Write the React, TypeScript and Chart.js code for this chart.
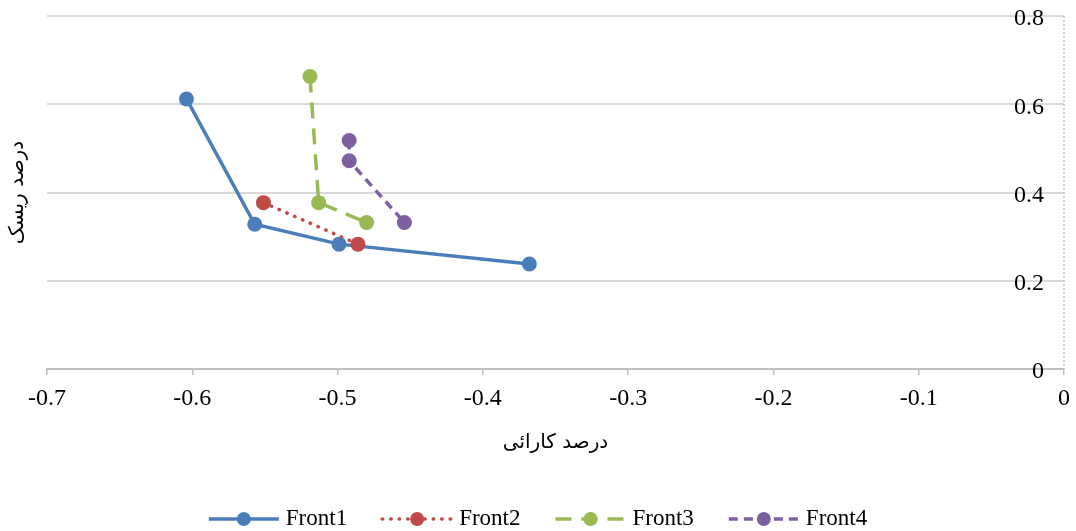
import { useEffect, useRef } from 'react';
import { Chart, registerables } from 'chart.js';

Chart.register(...registerables);

const seriesNames = ['Front1', 'Front2', 'Front3', 'Front4'];
const seriesColors = ['#4a7ebb', '#be4b48', '#98b954', '#7d60a0'];
const seriesDashes: number[][] = [[], [0.5, 8], [16, 10], [9, 6]];

const front1X = [-0.604, -0.557, -0.499, -0.368];
const front1Y = [0.612, 0.328, 0.283, 0.238];
const front2X = [-0.551, -0.486];
const front2Y = [0.377, 0.283];
const front3X = [-0.519, -0.513, -0.48];
const front3Y = [0.663, 0.377, 0.332];
const front4X = [-0.492, -0.492, -0.454];
const front4Y = [0.518, 0.472, 0.332];

const xTickLabels = ['-0.7', '-0.6', '-0.5', '-0.4', '-0.3', '-0.2', '-0.1', '0'];
const yTickLabels = ['0', '0.2', '0.4', '0.6', '0.8'];

const xTitle = 'درصد کارائی';
const yTitle = 'درصد ریسک';

const serif = "'Liberation Serif', 'Times New Roman', serif";
const arabic = "'DejaVu Sans', sans-serif";

const toPoints = (xs: number[], ys: number[]) => xs.map((x, i) => ({ x, y: ys[i] }));

const dashedAxisPlugin = {
  id: 'dashedRightAxis',
  beforeDatasetsDraw(chart: any) {
    const ctx: CanvasRenderingContext2D = chart.ctx;
    const { top, bottom, right } = chart.chartArea;
    ctx.save();
    ctx.strokeStyle = '#bfbfbf';
    ctx.lineWidth = 1.5;
    ctx.setLineDash([2, 2]);
    ctx.beginPath();
    ctx.moveTo(right, top);
    ctx.lineTo(right, bottom);
    ctx.stroke();
    ctx.restore();
  },
};

const legendPlugin = {
  id: 'customLegend',
  afterDraw(chart: any) {
    const ctx: CanvasRenderingContext2D = chart.ctx;
    const sampleW = 70;
    const textGap = 7;
    const itemGap = 35;
    const cy = 519;
    ctx.save();
    ctx.font = `23px ${serif}`;
    const datasets = chart.data.datasets;
    const widths = datasets.map((ds: any) => sampleW + textGap + ctx.measureText(ds.label).width);
    const total = widths.reduce((a: number, b: number) => a + b, 0) + itemGap * (datasets.length - 1);
    let x = (chart.width - total) / 2;
    datasets.forEach((ds: any, i: number) => {
      ctx.save();
      ctx.strokeStyle = ds.borderColor;
      ctx.lineWidth = 3.5;
      ctx.lineCap = ds.borderCapStyle || 'butt';
      ctx.setLineDash(ds.borderDash || []);
      ctx.beginPath();
      ctx.moveTo(x, cy);
      ctx.lineTo(x + sampleW, cy);
      ctx.stroke();
      ctx.setLineDash([]);
      ctx.fillStyle = ds.borderColor;
      ctx.beginPath();
      ctx.arc(x + sampleW / 2, cy, 7, 0, Math.PI * 2);
      ctx.fill();
      ctx.restore();
      ctx.fillStyle = '#000';
      ctx.textAlign = 'left';
      ctx.textBaseline = 'middle';
      ctx.fillText(ds.label, x + sampleW + textGap, cy);
      x += widths[i] + itemGap;
    });
    ctx.restore();
  },
};

export default function App() {
  const ref = useRef<HTMLCanvasElement | null>(null);

  useEffect(() => {
    if (!ref.current) return;
    const seriesData = [
      toPoints(front1X, front1Y),
      toPoints(front2X, front2Y),
      toPoints(front3X, front3Y),
      toPoints(front4X, front4Y),
    ];
    const chart = new Chart(ref.current, {
      type: 'scatter',
      data: {
        datasets: seriesNames.map((name, i) => ({
          label: name,
          data: seriesData[i],
          showLine: true,
          borderColor: seriesColors[i],
          backgroundColor: seriesColors[i],
          borderWidth: 3.5,
          borderDash: seriesDashes[i],
          borderCapStyle: i === 1 ? 'round' : 'butt',
          pointRadius: 7.5,
          pointHoverRadius: 7.5,
          pointBorderWidth: 0,
          pointBackgroundColor: seriesColors[i],
          order: seriesNames.length - i,
        })),
      },
      options: {
        animation: false,
        responsive: false,
        devicePixelRatio: 1,
        layout: { padding: { left: 0, right: 0, top: 16, bottom: 0 } },
        plugins: {
          legend: { display: false },
          tooltip: { enabled: false },
        },
        scales: {
          x: {
            type: 'linear',
            position: 'bottom',
            min: -0.7,
            max: 0,
            afterFit: (s: any) => {
              s.height = 162;
              s.paddingLeft = 0;
              s.paddingRight = 0;
            },
            ticks: {
              stepSize: 0.1,
              color: '#000',
              font: { family: serif, size: 24 },
              padding: 9,
              maxRotation: 0,
              autoSkip: false,
              callback: (_v: any, i: number) => xTickLabels[i],
            },
            grid: {
              drawOnChartArea: false,
              drawTicks: true,
              tickLength: 6,
              color: '#bfbfbf',
              lineWidth: 1.5,
            },
            border: { display: true, color: '#bfbfbf', width: 2 },
            title: {
              display: true,
              text: xTitle,
              color: '#000',
              font: { family: arabic, size: 20 },
              padding: { top: 0, bottom: 76 },
            },
          },
          y: {
            type: 'linear',
            position: 'right',
            min: 0,
            max: 0.8,
            afterFit: (s: any) => {
              s.width = 12;
              s.paddingTop = 0;
              s.paddingBottom = 0;
            },
            ticks: {
              stepSize: 0.2,
              mirror: true,
              padding: -20,
              labelOffset: 3,
              color: '#000',
              font: { family: serif, size: 24 },
              callback: (_v: any, i: number) => yTickLabels[i],
            },
            grid: {
              color: '#d9d9d9',
              lineWidth: 2,
              drawTicks: false,
            },
            border: { display: false },
          },
          yt: {
            type: 'linear',
            position: 'left',
            min: 0,
            max: 0.8,
            afterFit: (s: any) => {
              s.width = 47;
              s.paddingTop = 0;
              s.paddingBottom = 0;
            },
            ticks: { display: false },
            grid: { display: false, drawTicks: false },
            border: { display: false },
            title: {
              display: true,
              text: yTitle,
              color: '#000',
              font: { family: arabic, size: 20 },
              padding: { top: 6, bottom: 0 },
            },
          },
        },
      },
      plugins: [dashedAxisPlugin, legendPlugin],
    } as any);
    return () => chart.destroy();
  }, []);

  return (
    <div style={{ position: 'absolute', left: 0, top: 0, width: 1076, height: 531, background: '#fff' }}>
      <canvas ref={ref} width={1076} height={531} style={{ display: 'block' }} />
    </div>
  );
}
